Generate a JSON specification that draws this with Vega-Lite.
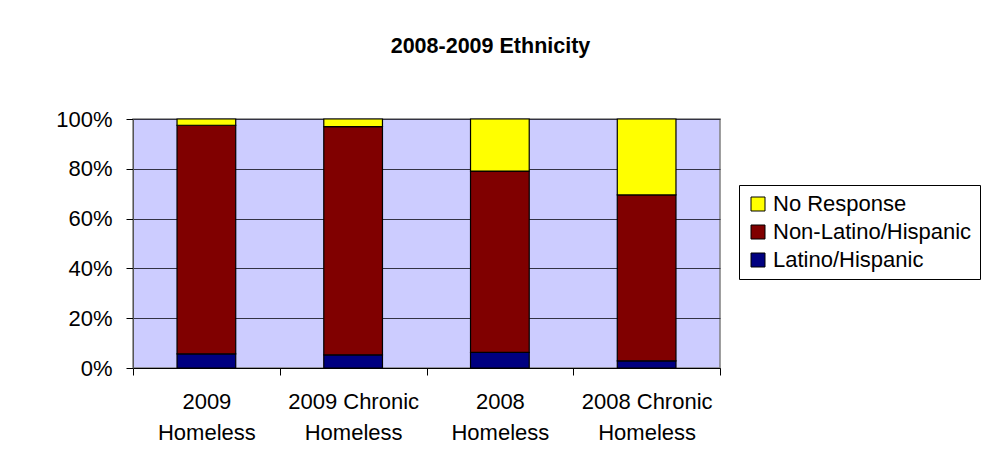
{
  "$schema": "https://vega.github.io/schema/vega-lite/v6.json",
  "width": 587,
  "height": 249,
  "autosize": {"type": "none"},
  "padding": {"left": 133, "top": 119, "right": 263, "bottom": 104},
  "background": "white",
  "title": {
    "text": "2008-2009 Ethnicity",
    "anchor": "middle",
    "frame": "group",
    "dx": 64,
    "offset": 34,
    "baseline": "alphabetic",
    "font": "Liberation Sans",
    "fontSize": 21.5,
    "fontWeight": "bold",
    "color": "black"
  },
  "data": {
    "values": [
      {"Group": "2009 Homeless", "Ethnicity": "Latino/Hispanic", "Percent": 5.7},
      {"Group": "2009 Homeless", "Ethnicity": "Non-Latino/Hispanic", "Percent": 91.8},
      {"Group": "2009 Homeless", "Ethnicity": "No Response", "Percent": 2.5},
      {"Group": "2009 Chronic Homeless", "Ethnicity": "Latino/Hispanic", "Percent": 5.3},
      {"Group": "2009 Chronic Homeless", "Ethnicity": "Non-Latino/Hispanic", "Percent": 91.6},
      {"Group": "2009 Chronic Homeless", "Ethnicity": "No Response", "Percent": 3.1},
      {"Group": "2008 Homeless", "Ethnicity": "Latino/Hispanic", "Percent": 6.3},
      {"Group": "2008 Homeless", "Ethnicity": "Non-Latino/Hispanic", "Percent": 72.8},
      {"Group": "2008 Homeless", "Ethnicity": "No Response", "Percent": 20.9},
      {"Group": "2008 Chronic Homeless", "Ethnicity": "Latino/Hispanic", "Percent": 2.9},
      {"Group": "2008 Chronic Homeless", "Ethnicity": "Non-Latino/Hispanic", "Percent": 66.6},
      {"Group": "2008 Chronic Homeless", "Ethnicity": "No Response", "Percent": 30.5}
    ]
  },
  "transform": [
    {"calculate": "indexof(['Latino/Hispanic','Non-Latino/Hispanic','No Response'], datum.Ethnicity)", "as": "stackOrder"}
  ],
  "mark": {"type": "bar", "width": {"band": 0.4}, "stroke": "black", "strokeWidth": 1.2},
  "encoding": {
    "x": {
      "field": "Group",
      "type": "nominal",
      "sort": ["2009 Homeless", "2009 Chronic Homeless", "2008 Homeless", "2008 Chronic Homeless"],
      "scale": {"paddingInner": 0, "paddingOuter": 0},
      "axis": {
        "title": null,
        "labelAngle": 0,
        "tickBand": "extent",
        "labelExpr": "[substring(datum.label, 0, lastindexof(datum.label, ' ')), substring(datum.label, lastindexof(datum.label, ' ') + 1)]",
        "labelFont": "Liberation Sans",
        "labelFontSize": 22,
        "labelColor": "black",
        "labelLineHeight": 31,
        "labelBaseline": "top",
        "labelPadding": 16,
        "tickSize": 7,
        "tickColor": "black",
        "domainColor": "black",
        "grid": false
      }
    },
    "y": {
      "field": "Percent",
      "type": "quantitative",
      "stack": "normalize",
      "scale": {"domain": [0, 1]},
      "axis": {
        "title": null,
        "format": ".0%",
        "values": [0, 0.2, 0.4, 0.6, 0.8, 1],
        "labelFont": "Liberation Sans",
        "labelFontSize": 22,
        "labelColor": "black",
        "labelPadding": 14,
        "tickSize": 7,
        "tickColor": "black",
        "domainColor": "#555555",
        "grid": true,
        "gridColor": "#333344",
        "gridWidth": 1
      }
    },
    "color": {
      "field": "Ethnicity",
      "type": "nominal",
      "scale": {
        "domain": ["No Response", "Non-Latino/Hispanic", "Latino/Hispanic"],
        "range": ["#FFFF00", "#800000", "#000080"]
      },
      "legend": {
        "title": null,
        "orient": "none",
        "legendX": 606,
        "legendY": 66,
        "padding": 8,
        "strokeColor": "black",
        "fillColor": "white",
        "symbolType": "square",
        "symbolSize": 196,
        "symbolStrokeColor": "black",
        "symbolStrokeWidth": 1,
        "labelFont": "Liberation Sans",
        "labelFontSize": 22,
        "labelColor": "black",
        "labelOffset": 4,
        "rowPadding": 6,
        "labelLimit": 300
      }
    },
    "order": {"field": "stackOrder", "type": "quantitative"}
  },
  "config": {
    "view": {"fill": "#CCCCFF", "stroke": "#808080", "strokeWidth": 1.5}
  }
}
